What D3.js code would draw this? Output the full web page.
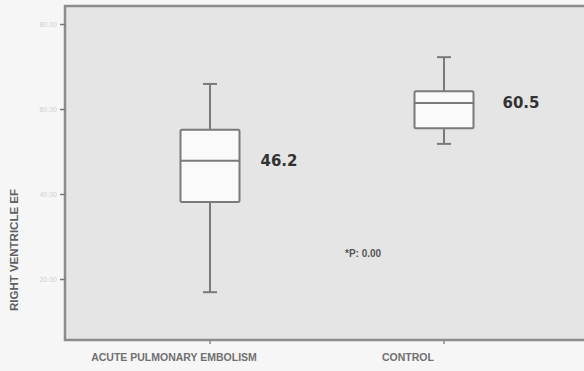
<!DOCTYPE html>
<html>
<head>
<meta charset="utf-8">
<script src="https://cdn.jsdelivr.net/npm/d3@7"></script>
<style>
  body { margin: 0; background: #f6f6f6; }
  svg { display: block; }
</style>
</head>
<body>
<div id="chart"></div>
<script>
// data
const groups = ["ACUTE PULMONARY EMBOLISM", "CONTROL"];
const whiskerLow = [16.9, 51.8];
const q1 = [38.1, 55.5];
const median = [47.8, 61.4];
const q3 = [55.1, 64.2];
const whiskerHigh = [65.9, 72.2];
const meanLabels = ["46.2", "60.5"];
const yTicks = [20, 40, 60, 80];
const pLabel = "*P: 0.00";

const width = 584, height = 371;
const plotLeft = 65, plotTop = 6, plotBottom = 340, plotRight = 590;

const svg = d3.select("#chart").append("svg")
  .attr("width", width)
  .attr("height", height);

const y = d3.scaleLinear().domain([5.65, 84.24]).range([plotBottom, plotTop]);
const x = d3.scaleBand().domain(groups).range([93, 561]);
const cx = d => x(d) + x.bandwidth() / 2;

// plot background
svg.append("rect")
  .attr("x", plotLeft).attr("y", plotTop)
  .attr("width", plotRight - plotLeft).attr("height", plotBottom - plotTop)
  .attr("fill", "#e5e5e5")
  .attr("stroke", "#8c8c8c")
  .attr("stroke-width", 2.5);

// y axis
const yAxis = svg.append("g")
  .attr("transform", "translate(" + plotLeft + ",0)")
  .call(d3.axisLeft(y).tickValues(yTicks).tickFormat(d3.format(".2f")).tickSize(5));
yAxis.select(".domain").remove();
yAxis.selectAll("line").attr("stroke", "#777").attr("stroke-width", 1.5);
yAxis.selectAll("text").attr("fill", "#cfcfcf").style("font-family", "Liberation Sans, Arial, sans-serif").style("font-size", "7px");

// x ticks
svg.selectAll(".xtick")
  .data(groups).enter().append("line")
  .attr("x1", cx).attr("x2", cx)
  .attr("y1", plotBottom).attr("y2", plotBottom + 4)
  .attr("stroke", "#888").attr("stroke-width", 1.5);

svg.selectAll(".xlab")
  .data(groups).enter().append("text")
  .attr("x", d => cx(d) - 36)
  .attr("y", 361)
  .attr("text-anchor", "middle")
  .attr("fill", "#707070")
  .style("font-family", "Liberation Sans, Arial, sans-serif")
  .style("font-weight", "bold")
  .style("font-size", "10.5px")
  .text(d => d);

// y title
svg.append("text")
  .attr("transform", "translate(18,250) rotate(-90)")
  .attr("text-anchor", "middle")
  .attr("fill", "#606060")
  .style("font-family", "Liberation Sans, Arial, sans-serif")
  .style("font-weight", "bold")
  .style("font-size", "11.5px")
  .text("RIGHT VENTRICLE EF");

// boxes
const boxW = 59, capW = 14;
const labelGap = [21, 29];
const g = svg.selectAll(".box").data(groups).enter().append("g");

g.append("line")
  .attr("x1", cx).attr("x2", cx)
  .attr("y1", (d, i) => y(whiskerHigh[i]))
  .attr("y2", (d, i) => y(whiskerLow[i]))
  .attr("stroke", "#7a7a7a").attr("stroke-width", 2);

g.append("line")
  .attr("x1", d => cx(d) - capW / 2).attr("x2", d => cx(d) + capW / 2)
  .attr("y1", (d, i) => y(whiskerHigh[i])).attr("y2", (d, i) => y(whiskerHigh[i]))
  .attr("stroke", "#7a7a7a").attr("stroke-width", 2);

g.append("line")
  .attr("x1", d => cx(d) - capW / 2).attr("x2", d => cx(d) + capW / 2)
  .attr("y1", (d, i) => y(whiskerLow[i])).attr("y2", (d, i) => y(whiskerLow[i]))
  .attr("stroke", "#7a7a7a").attr("stroke-width", 2);

g.append("rect")
  .attr("x", d => cx(d) - boxW / 2)
  .attr("y", (d, i) => y(q3[i]))
  .attr("width", boxW)
  .attr("height", (d, i) => y(q1[i]) - y(q3[i]))
  .attr("rx", 1.5)
  .attr("fill", "#fafafa")
  .attr("stroke", "#7a7a7a").attr("stroke-width", 2);

g.append("line")
  .attr("x1", d => cx(d) - boxW / 2).attr("x2", d => cx(d) + boxW / 2)
  .attr("y1", (d, i) => y(median[i])).attr("y2", (d, i) => y(median[i]))
  .attr("stroke", "#7a7a7a").attr("stroke-width", 2);

g.append("text")
  .attr("x", (d, i) => cx(d) + boxW / 2 + labelGap[i])
  .attr("y", (d, i) => y(median[i]) + 5)
  .attr("fill", "#333")
  .style("font-family", "DejaVu Sans, sans-serif")
  .style("font-weight", "bold")
  .style("font-size", "15px")
  .text((d, i) => meanLabels[i]);

// p value
svg.append("text")
  .attr("x", 345).attr("y", 257)
  .attr("fill", "#555")
  .style("font-family", "Liberation Sans, Arial, sans-serif")
  .style("font-weight", "bold")
  .style("font-size", "10px")
  .text(pLabel);
</script>
</body>
</html>
